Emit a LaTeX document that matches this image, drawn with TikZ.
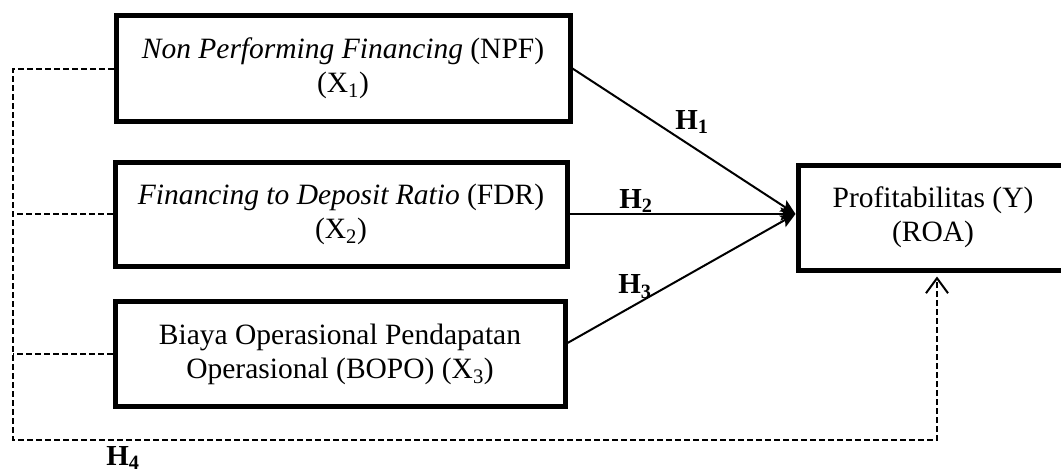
\documentclass[tikz,border=0pt]{standalone}
\usepackage{fontspec}
\setmainfont{Liberation Serif}
\usetikzlibrary{arrows.meta}
\begin{document}
\begin{tikzpicture}[x=1pt,y=-1pt,
  box/.style={draw, line width=5pt, align=center, inner sep=0pt,
    font=\fontsize{29.5}{34}\selectfont},
  hlab/.style={font=\fontsize{29}{34}\selectfont\bfseries, inner sep=0pt},
  solidarrow/.style={line width=2pt, -{Stealth[length=15pt,width=13pt,inset=3pt]}},
  dsh/.style={line width=2pt, dash pattern=on 6pt off 3pt}
]
\useasboundingbox (0,0) rectangle (1061,474);
\node[box, minimum width=454pt, minimum height=106pt] (b1) at (343,68.5)
  {\textit{Non Performing Financing} (NPF)\\(X\textsubscript{1})};
\node[box, minimum width=452pt, minimum height=104pt] (b2) at (341,214)
  {\textit{Financing to Deposit Ratio} (FDR)\\(X\textsubscript{2})};
\node[box, minimum width=450pt, minimum height=105pt] (b3) at (340,354)
  {Biaya Operasional Pendapatan\\Operasional (BOPO) (X\textsubscript{3})};
\node[box, minimum width=270pt, minimum height=105pt] (y) at (933,217.5)
  {Profitabilitas (Y)\\(ROA)};

\coordinate (tip) at (y.west |- b2.east);
\draw[solidarrow] (b1.east) -- (tip);
\draw[solidarrow] (b2.east) -- (tip);
\draw[solidarrow] ([yshift=11pt]b3.east) -- (tip);

\node[hlab] (h1) at (692,122) {H\textsubscript{1}};
\node[hlab] (h2) at (636,201) {H\textsubscript{2}};
\node[hlab] (h3) at (635,287) {H\textsubscript{3}};
\node[hlab] (h4) at (123,458) {H\textsubscript{4}};

\coordinate (bl) at (13,440);
\coordinate (br) at (937,440);
\draw[dsh] (b2.west) -- (b2.west -| bl);
\draw[dsh] (b3.west) -- (b3.west -| bl);
\draw[dsh, -{Straight Barb[length=15pt,width=22pt,line width=2pt]}, shorten >=4pt]
  (b1.west) -| (bl) -- (br) -- (br |- y.south);
\end{tikzpicture}
\end{document}
